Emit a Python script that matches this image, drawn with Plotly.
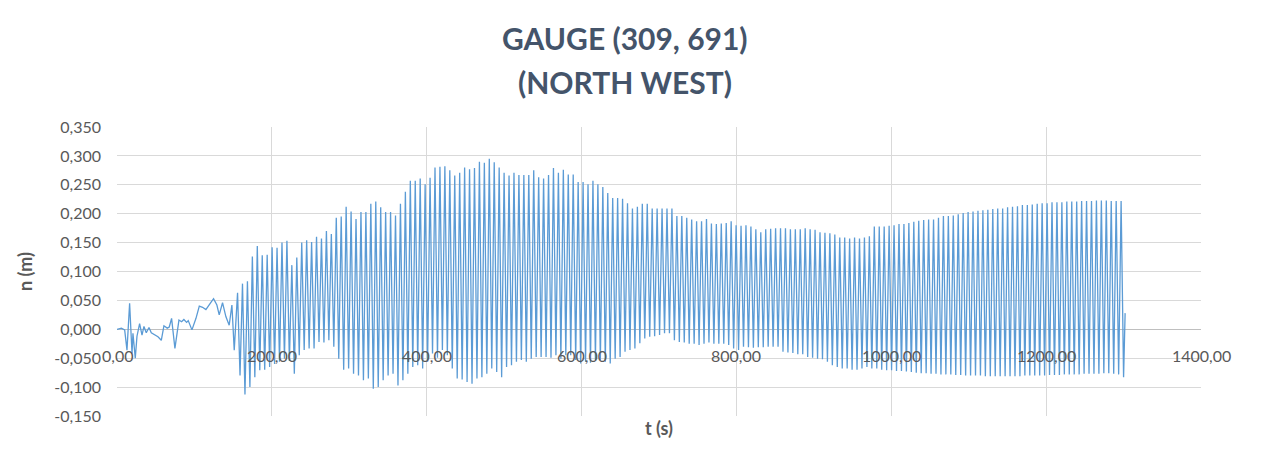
import plotly.graph_objects as go

# ---- data ----
early_t = [0, 5.6, 9.9, 12.9, 16.3, 19.4, 20.6, 23.6, 25.8, 29.2, 32.3, 34.8, 37.8, 41.3,
           44.3, 48.6, 52.9, 57.2, 60.6, 64.9, 67.5, 70.5, 74.8, 80.0, 83.4, 86.4, 89.9,
           92.0, 96.8, 102.0, 106.3, 110.5, 114.8, 120.4, 124.7, 129.0, 132.0, 136.3,
           140.6, 144.9, 148.4, 151.4]
early_n = [0, 0.002, -0.001, -0.036, 0.045, -0.042, -0.007, -0.050, -0.012, 0.010, -0.010,
           0.005, -0.006, 0.003, -0.006, -0.010, -0.013, -0.019, 0.006, 0.002, 0.004, 0.019,
           -0.033, 0.016, 0.013, 0.017, 0.012, 0.015, -0.001, 0.019, 0.040, 0.038, 0.034,
           0.045, 0.053, 0.042, 0.025, 0.046, 0.022, 0.007, 0.042, -0.036]

wave_start = 155.7   # time of first crest (s)
wave_period = 6.375  # crest-to-crest period (s)

crests = [0.063, 0.079, 0.083, 0.126, 0.144, 0.128, 0.129, 0.142, 0.141, 0.150,
          0.153, 0.111, 0.124, 0.150, 0.154, 0.151, 0.160, 0.157, 0.170, 0.165,
          0.193, 0.195, 0.212, 0.204, 0.191, 0.203, 0.203, 0.217, 0.221, 0.211,
          0.203, 0.203, 0.197, 0.217, 0.238, 0.257, 0.257, 0.261, 0.251, 0.262,
          0.280, 0.281, 0.282, 0.275, 0.266, 0.271, 0.280, 0.277, 0.279, 0.290,
          0.288, 0.295, 0.289, 0.280, 0.271, 0.266, 0.271, 0.267, 0.267, 0.267,
          0.275, 0.263, 0.261, 0.267, 0.279, 0.271, 0.276, 0.268, 0.268, 0.255,
          0.255, 0.251, 0.257, 0.251, 0.246, 0.236, 0.227, 0.227, 0.226, 0.218,
          0.209, 0.212, 0.217, 0.217, 0.209, 0.209, 0.209, 0.209, 0.209, 0.196,
          0.196, 0.193, 0.190, 0.187, 0.187, 0.191, 0.183, 0.182, 0.183, 0.184,
          0.187, 0.180, 0.179, 0.180, 0.178, 0.173, 0.168, 0.173, 0.174, 0.175,
          0.175, 0.175, 0.173, 0.173, 0.173, 0.175, 0.173, 0.172, 0.168, 0.167,
          0.166, 0.164, 0.159, 0.159, 0.157, 0.159, 0.157, 0.159, 0.161, 0.178,
          0.178, 0.178, 0.179, 0.180, 0.182, 0.182, 0.184, 0.186, 0.188, 0.189,
          0.190, 0.190, 0.193, 0.196, 0.196, 0.197, 0.199, 0.201, 0.203, 0.204,
          0.205, 0.206, 0.207, 0.208, 0.209, 0.209, 0.211, 0.212, 0.213, 0.215,
          0.215, 0.216, 0.217, 0.218, 0.218, 0.220, 0.220, 0.220, 0.221, 0.221,
          0.221, 0.222, 0.222, 0.222, 0.223, 0.223, 0.223, 0.222, 0.222, 0.222]

troughs = [-0.080, -0.113, -0.100, -0.083, -0.071, -0.070, -0.065, -0.060, -0.056, -0.051,
           -0.055, -0.077, -0.045, -0.036, -0.033, -0.033, -0.022, -0.023, -0.019, -0.030,
           -0.051, -0.070, -0.068, -0.077, -0.080, -0.088, -0.085, -0.103, -0.100, -0.088,
           -0.080, -0.077, -0.097, -0.088, -0.077, -0.065, -0.062, -0.068, -0.056, -0.042,
           -0.049, -0.036, -0.045, -0.068, -0.085, -0.087, -0.091, -0.094, -0.085, -0.083,
           -0.077, -0.068, -0.074, -0.083, -0.065, -0.062, -0.056, -0.053, -0.056, -0.051,
           -0.048, -0.048, -0.048, -0.049, -0.045, -0.051, -0.045, -0.045, -0.053, -0.059,
           -0.056, -0.058, -0.053, -0.053, -0.056, -0.059, -0.051, -0.048, -0.039, -0.036,
           -0.033, -0.024, -0.016, -0.013, -0.012, -0.010, -0.007, -0.007, -0.019, -0.022,
           -0.023, -0.025, -0.025, -0.027, -0.025, -0.023, -0.025, -0.025, -0.025, -0.027,
           -0.033, -0.036, -0.030, -0.031, -0.032, -0.031, -0.031, -0.030, -0.030, -0.030,
           -0.039, -0.040, -0.041, -0.043, -0.043, -0.048, -0.049, -0.051, -0.052, -0.056,
           -0.062, -0.065, -0.068, -0.068, -0.070, -0.070, -0.068, -0.065, -0.068, -0.068,
           -0.070, -0.071, -0.071, -0.072, -0.072, -0.073, -0.074, -0.075, -0.076, -0.076,
           -0.077, -0.077, -0.078, -0.078, -0.078, -0.079, -0.079, -0.080, -0.080, -0.080,
           -0.080, -0.081, -0.081, -0.081, -0.081, -0.081, -0.081, -0.081, -0.081, -0.080,
           -0.080, -0.080, -0.080, -0.080, -0.079, -0.079, -0.079, -0.078, -0.078, -0.078,
           -0.078, -0.077, -0.077, -0.077, -0.077, -0.076, -0.076, -0.077, -0.078, -0.083]

end_t = [1302.0]
end_n = [0.028]

x_tick_vals = [0, 200, 400, 600, 800, 1000, 1200, 1400]
x_tick_text = ["0,00", "200,00", "400,00", "600,00", "800,00", "1000,00", "1200,00", "1400,00"]
y_tick_vals = [-0.15, -0.10, -0.05, 0.0, 0.05, 0.10, 0.15, 0.20, 0.25, 0.30, 0.35]
y_tick_text = ["-0,150", "-0,100", "-0,050", "0,000", "0,050", "0,100", "0,150",
               "0,200", "0,250", "0,300", "0,350"]

title_lines = ["GAUGE (309, 691)", "(NORTH WEST)"]

# ---- assemble the time series: early record, then crest/trough sequence ----
t = list(early_t)
n = list(early_n)
for k, (c, tr) in enumerate(zip(crests, troughs)):
    t.append(wave_start + k * wave_period)
    n.append(c)
    t.append(wave_start + (k + 0.5) * wave_period)
    n.append(tr)
t += end_t
n += end_n

FONT = "Lato"
GRID = "#D9D9D9"
TXT = "#595959"

# page body has an 8px margin, so the figure is sized/offset to compensate
W, H = 1255, 460
ML, MR, MT, MB = 109, 62, 119, 52
PW, PH = W - ML - MR, H - MT - MB

fig = go.Figure()
fig.add_trace(go.Scatter(x=t, y=n, mode="lines",
                         line=dict(color="#5B9BD5", width=1.3),
                         hoverinfo="x+y", showlegend=False))

fig.update_layout(
    width=W, height=H,
    margin=dict(l=ML, r=MR, t=MT, b=MB, autoexpand=False),
    paper_bgcolor="white", plot_bgcolor="white",
    separators=", ",
    font=dict(family=FONT, color=TXT, size=16),
    xaxis=dict(range=[0, 1400], tickvals=x_tick_vals, showticklabels=False,
               showgrid=True, gridcolor=GRID, gridwidth=1, zeroline=False,
               showline=False, ticks="", automargin=False,
               title=dict(text="<b>t (s)</b>", font=dict(family=FONT, size=18, color=TXT),
                          standoff=6)),
    yaxis=dict(range=[-0.15, 0.35], tickvals=y_tick_vals, ticktext=y_tick_text,
               showgrid=True, gridcolor=GRID, gridwidth=1,
               zeroline=True, zerolinecolor="#BFBFBF", zerolinewidth=1,
               showline=False, ticks="", ticklabelstandoff=15, automargin=False,
               tickfont=dict(family=FONT, size=16, color=TXT),
               title=dict(text="<b>n (m)</b>", font=dict(family=FONT, size=18, color=TXT),
                          standoff=16)),
)

# x tick labels sit just below the horizontal axis, which crosses at n = 0
for xv, xt in zip(x_tick_vals, x_tick_text):
    fig.add_annotation(x=xv, y=0, xref="x", yref="y", text=xt, showarrow=False,
                       xanchor="center", yanchor="middle", yshift=-26,
                       font=dict(family=FONT, size=16, color=TXT))

for i, line in enumerate(title_lines):
    py = 30 + 44 * i   # figure-pixel centre of the title line
    fig.add_annotation(text="<b>%s</b>" % line, xref="paper", yref="paper",
                       x=(617 - ML) / PW, y=(MT + PH - py) / PH,
                       xanchor="center", yanchor="middle",
                       showarrow=False, font=dict(family=FONT, size=30, color="#44546A"))

fig.add_shape(type="line", xref="paper", yref="paper",
              x0=(1249 - ML) / PW, x1=(1249 - ML) / PW,
              y0=-MB / PH, y1=(MT + PH) / PH, line=dict(color="#E0E0E0", width=1))

fig.write_html("out.html")
